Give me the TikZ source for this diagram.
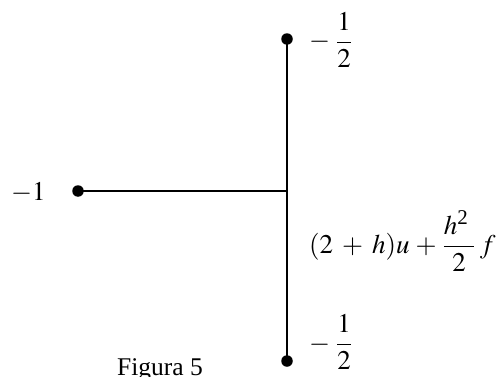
\documentclass[tikz,border=0pt]{standalone}
\usepackage{mathptmx}
\usepackage{fontspec}
\setmainfont{Liberation Serif}
\newcommand{\dfr}[2]{{\displaystyle\frac{#1}{#2}}}
\newcommand{\bigsup}{\mbox{\fontsize{21}{21}\selectfont 2}}
\begin{document}
\begin{tikzpicture}[x=1pt,y=1pt,
  wire/.style={line width=1.8pt},
  dotnode/.style={circle,fill=black,inner sep=0pt,minimum size=11.5pt},
  lbl/.style={inner sep=0pt,font=\fontsize{25.5}{30}\selectfont},
  mlbl/.style={inner sep=0pt,anchor=base west,font=\fontsize{27}{32}\selectfont}]
\useasboundingbox (0,0) rectangle (501,376);
\node[dotnode] (A) at (287,337) {};
\coordinate (J) at (287,185);
\node[dotnode] (L) at (78,185) {};
\node[dotnode] (B) at (287,15) {};
\draw[wire] (A.center) -- (B.center);
\draw[wire] (L.center) -- (J);
\node[mlbl] (lL) at (11,176) {$-1$};
\node[mlbl] (lA) at (309,327) {$-\mkern4mu\dfr{1}{2}$};
\node[mlbl] (lJ) at (309,123) {$(2\mkern6mu{+}\mkern6mu h)u\mkern4mu{+}\mkern4mu\dfr{h^{\bigsup}\mkern4mu}{2}\mkern3mu f$};
\node[mlbl] (lB) at (309,25) {$-\mkern4mu\dfr{1}{2}$};
\node[lbl,anchor=base] (cap) at (160,0.5) {Figura 5};
\end{tikzpicture}
\end{document}
